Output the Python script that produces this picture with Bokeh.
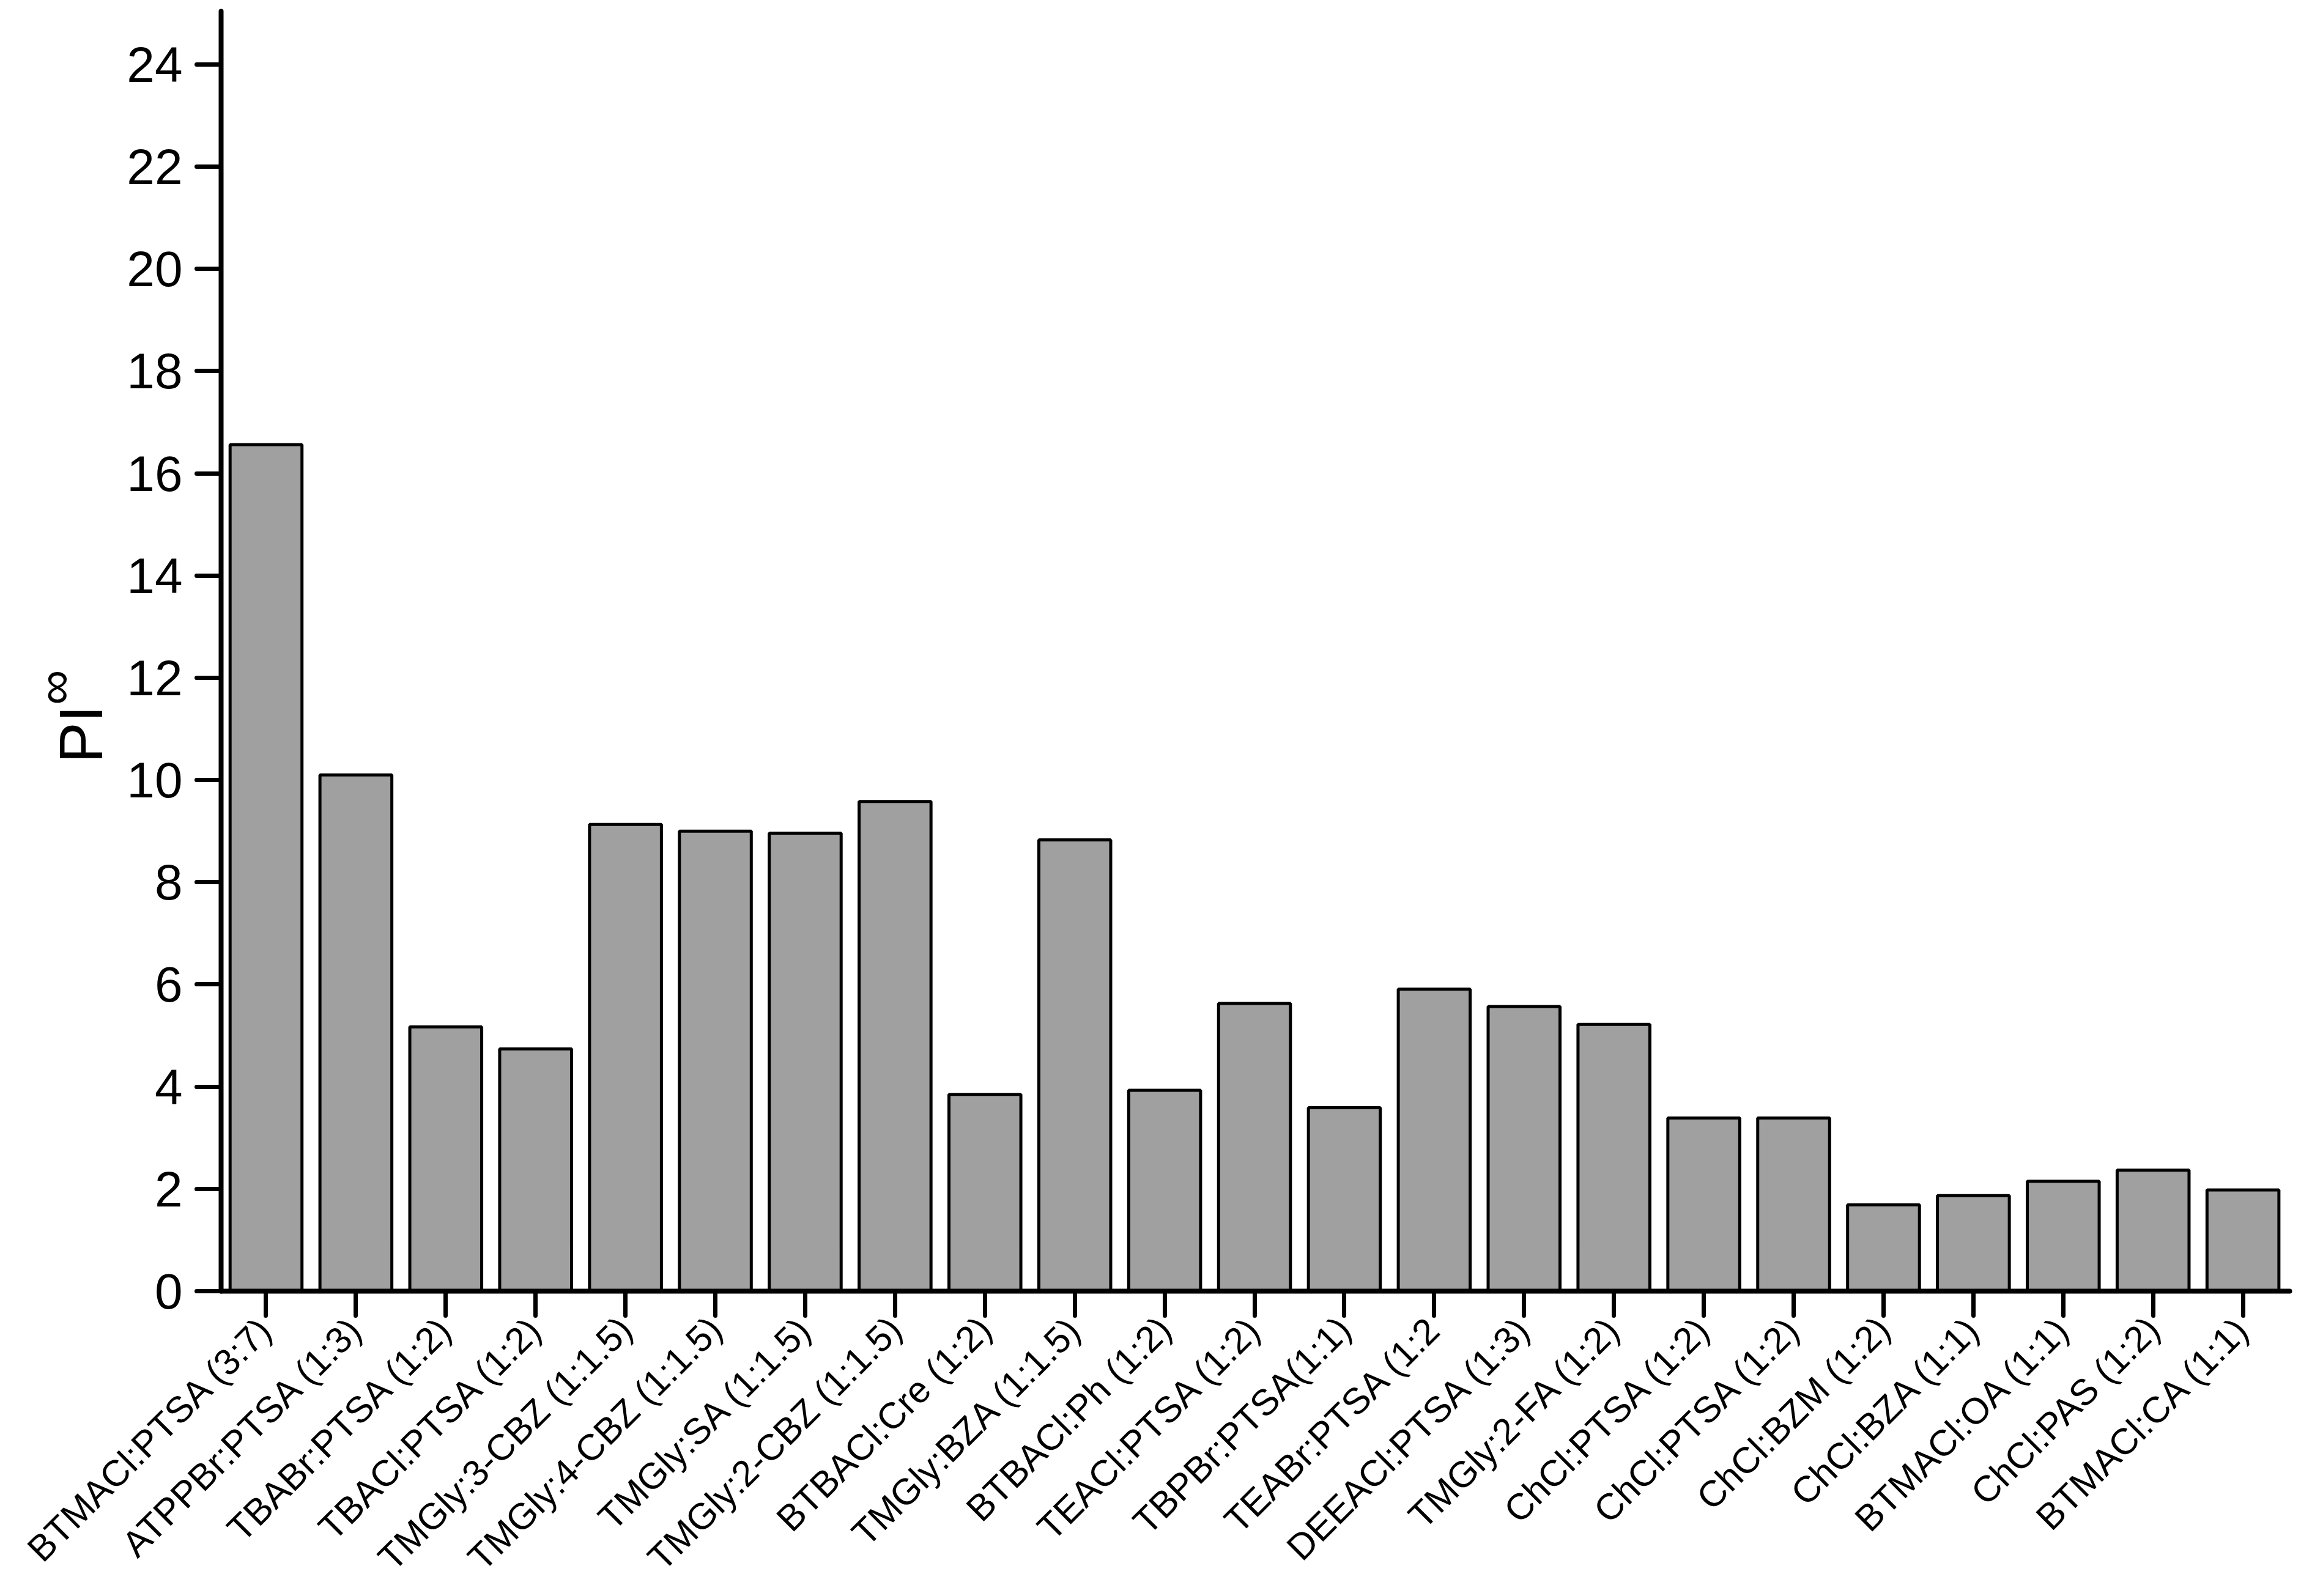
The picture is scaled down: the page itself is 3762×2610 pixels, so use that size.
import math
from bokeh.plotting import figure
from bokeh.models import ColumnDataSource, Range1d, FixedTicker, Label
from bokeh.embed import file_html
from bokeh.resources import INLINE

# ---- data ----
systems = [
    "BTMACl:PTSA (3:7)", "ATPPBr:PTSA (1:3)", "TBABr:PTSA (1:2)", "TBACl:PTSA (1:2)",
    "TMGly:3-CBZ (1:1.5)", "TMGly:4-CBZ (1:1.5)", "TMGly:SA (1:1.5)", "TMGly:2-CBZ (1:1.5)",
    "BTBACl:Cre (1:2)", "TMGly:BZA (1:1.5)", "BTBACl:Ph (1:2)", "TEACl:PTSA (1:2)",
    "TBPBr:PTSA(1:1)", "TEABr:PTSA (1:2", "DEEACl:PTSA (1:3)", "TMGly:2-FA (1:2)",
    "ChCl:PTSA (1:2)", "ChCl:PTSA (1:2)", "ChCl:BZM (1:2)", "ChCl:BZA (1:1)",
    "BTMACl:OA (1:1)", "ChCl:PAS (1:2)", "BTMACl:CA (1:1)",
]
pi_inf = [16.56, 10.1, 5.17, 4.74, 9.13, 9.0, 8.96, 9.58, 3.85, 8.83, 3.93, 5.63,
          3.59, 5.91, 5.57, 5.22, 3.39, 3.39, 1.69, 1.87, 2.15, 2.37, 1.98]
y_ticks = [0, 2, 4, 6, 8, 10, 12, 14, 16, 18, 20, 22, 24]

positions = list(range(1, len(systems) + 1))
source = ColumnDataSource(data=dict(x=positions, pi=pi_inf, name=systems))

FONT = "Liberation Sans"

p = figure(width=3760, height=2608, output_backend="svg", toolbar_location=None,
           x_range=Range1d(0.5, 23.52), y_range=Range1d(0, 25.04),
           min_border_left=361, min_border_right=17, min_border_top=18,
           min_border_bottom=497)
p.background_fill_color = "white"
p.border_fill_color = "white"
p.outline_line_color = None
p.grid.visible = False

p.vbar(x="x", top="pi", width=0.8, source=source, fill_color="#a0a0a0",
       line_color="black", line_width=5)

for ax in (p.xaxis[0], p.yaxis[0]):
    ax.axis_line_width = 8
    ax.axis_line_cap = "round"
    ax.major_tick_line_width = 7
    ax.major_tick_line_cap = "round"
    ax.major_tick_out = 40
    ax.major_tick_in = 0
    ax.minor_tick_line_color = None
    ax.major_label_text_font = FONT
    ax.major_label_text_color = "black"

p.yaxis.ticker = FixedTicker(ticks=y_ticks)
p.yaxis.major_label_text_font_size = "82px"
p.yaxis.major_label_standoff = 23

p.xaxis.ticker = FixedTicker(ticks=positions)
p.xaxis.major_label_overrides = {i: s for i, s in zip(positions, systems)}
p.xaxis.major_label_orientation = math.pi / 4
p.xaxis.major_label_text_font_size = "60px"
p.xaxis.major_label_standoff = 12

# y axis title: PI with superscript infinity (placed in the left panel so it is not clipped)
p.add_layout(Label(x=-1.065, y=10.33, text="PI", angle=math.pi / 2,
                   text_font=FONT, text_font_size="100px", text_align="left",
                   text_baseline="middle", text_color="black"), "left")
p.add_layout(Label(x=-1.35, y=11.47, text="\u221e", angle=math.pi / 2,
                   text_font=FONT, text_font_size="80px", text_align="left",
                   text_baseline="middle", text_color="black"), "left")

open("out.html", "w").write(file_html(p, INLINE))
